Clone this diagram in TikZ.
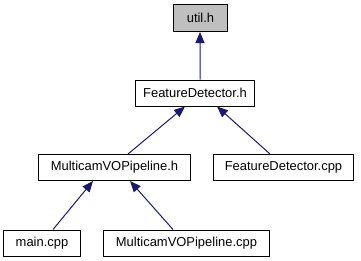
\documentclass[tikz,border=0pt]{standalone}
\usepackage{fontspec}
\setmainfont{Liberation Sans}
\usetikzlibrary{arrows.meta}

\definecolor{edgeblue}{HTML}{191970}
\definecolor{hdrgray}{HTML}{BFBFBF}

\begin{document}
\begin{tikzpicture}[x = 1bp, y = -1bp, > = {Triangle[length = 11bp, width = 9bp]},
	file/.style = {draw, line width = 1bp, minimum height = 26bp, inner sep = 0pt,
		font = \fontsize{13}{15}\selectfont},
	hdr/.style = {file, fill = hdrgray}]

	\useasboundingbox (0, 0) rectangle (361, 261);

	% Header at the top and the files that include it

	\node [hdr, minimum width = 53bp, minimum height = 27bp] (util) at (200.5, 18) {util.h};
	\node [file, minimum width = 118bp] (fdh) at (195, 93) {FeatureDetector.h};

	\node [file, minimum width = 151bp] (mvh) at (114.5, 167.5) {MulticamVOPipeline.h};
	\node [file, minimum width = 139bp] (fdc) at (283.5, 167.5) {FeatureDetector.cpp};

	\node [file, minimum width = 76bp] (main) at (42, 243) {main.cpp};
	\node [file, minimum width = 165bp] (mvc) at (186.5, 243) {MulticamVOPipeline.cpp};

	% Include edges

	\begin{scope}[->, edgeblue, line width = 1bp]

		\draw ([xshift = 5bp] fdh.north) -- ([xshift = -0.5bp] util.south);

		\draw ([xshift = 13.5bp] mvh.north) -- ([xshift = -10bp] fdh.south);
		\draw ([xshift = -13.5bp] fdc.north) -- ([xshift = 22bp] fdh.south);

		\draw ([xshift = 11bp] main.north) -- ([xshift = -21.5bp] mvh.south);
		\draw ([xshift = -13.5bp] mvc.north) -- ([xshift = 15.5bp] mvh.south);

	\end{scope}

\end{tikzpicture}
\end{document}
